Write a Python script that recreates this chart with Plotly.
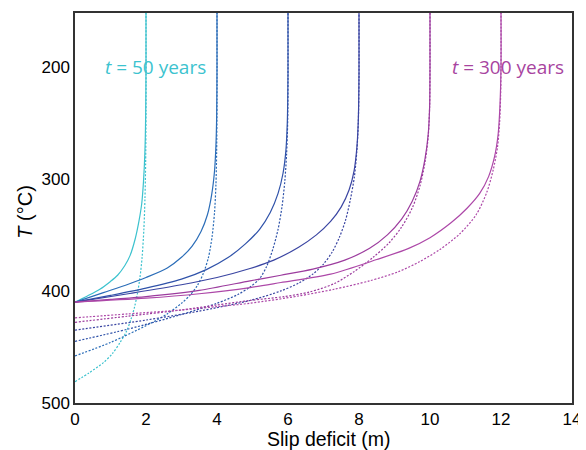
import plotly.graph_objects as go

# ---- data (slip deficit in m, temperature T in °C) ----
labels = ["50", "100", "150", "200", "250", "300"]
colors = ["#3cc2ce", "#2b6db8", "#2f52a9", "#3a45a2", "#9c3c9e", "#ad48a8"]

solid_x = [
    [0, 0.35, 0.7, 1.0, 1.2, 1.4, 1.55, 1.7, 1.8, 1.88, 1.93, 1.97, 1.99, 2.0, 2.0],
    [0, 0.8, 1.5, 2.0, 2.6, 3.0, 3.3, 3.55, 3.73, 3.85, 3.93, 3.97, 3.99, 4.0, 4.0],
    [0, 1.0, 2.0, 3.0, 3.7, 4.3, 4.8, 5.2, 5.5, 5.72, 5.86, 5.94, 5.98, 6.0, 6.0],
    [0, 1.5, 3.0, 4.0, 4.93, 5.6, 6.3, 6.8, 7.2, 7.5, 7.72, 7.86, 7.94, 7.98, 8.0, 8.0],
    [0, 1.0, 2.0, 3.5, 4.93, 5.8, 6.7, 7.6, 8.3, 8.8, 9.2, 9.5, 9.72, 9.86, 9.95, 9.99, 10.0, 10.0],
    [0, 2.0, 3.5, 4.93, 5.8, 7.2, 8.5, 9.4, 10.0, 10.6, 11.05, 11.4, 11.65, 11.82, 11.92, 11.97, 12.0, 12.0],
]
solid_T = [
    [410, 404.5, 398.5, 391.5, 386, 377.5, 368.5, 353, 338, 322, 302, 275, 245, 200, 152],
    [410, 401.5, 394, 388, 379.5, 370, 360, 347, 332, 314, 293, 270, 245, 200, 152],
    [410, 404, 397.5, 389.5, 381, 370.5, 358, 345, 330, 313, 295, 275, 250, 205, 152],
    [410, 402.5, 394.5, 388, 380, 372.5, 361, 350, 338, 325, 310, 293, 272, 248, 205, 152],
    [410, 407.5, 405, 399.5, 391, 386, 380.5, 372.5, 362, 350, 336, 320, 302, 282, 260, 235, 200, 152],
    [410, 406.5, 402.5, 397, 392.5, 385, 372, 362, 352.5, 339, 326, 313, 298, 280, 260, 235, 200, 152],
]

dot_x = [
    [0, 0.4, 0.8, 1.05, 1.27, 1.45, 1.58, 1.68, 1.76, 1.83, 1.89, 1.94, 1.97, 1.99, 2.0, 2.0],
    [0, 1.0, 2.0, 2.6, 3.0, 3.25, 3.45, 3.62, 3.76, 3.86, 3.93, 3.97, 3.99, 4.0, 4.0],
    [0, 1.5, 3.0, 4.0, 4.6, 4.93, 5.2, 5.4, 5.58, 5.72, 5.83, 5.91, 5.96, 5.99, 6.0, 6.0],
    [0, 2.0, 3.5, 4.93, 5.8, 6.3, 6.7, 7.0, 7.25, 7.45, 7.62, 7.76, 7.87, 7.94, 7.98, 8.0, 8.0],
    [0, 1.5, 3.0, 4.0, 4.93, 5.9, 6.6, 7.3, 7.85, 8.4, 8.85, 9.2, 9.5, 9.72, 9.86, 9.95, 9.99, 10.0, 10.0],
    [0, 1.5, 3.0, 4.0, 4.93, 6.3, 7.3, 8.3, 9.1, 9.7, 10.28, 10.84, 11.3, 11.6, 11.78, 11.9, 11.96, 11.99, 12.0, 12.0],
]
dot_T = [
    [481, 473, 464, 456, 446, 436, 425, 414, 402, 388, 370, 345, 318, 285, 240, 152],
    [458, 446, 431, 420.5, 411, 403.5, 395, 384, 370, 352, 330, 305, 275, 230, 152],
    [445, 434, 421, 411, 403, 396.5, 389, 378, 362, 345, 325, 302, 278, 250, 210, 152],
    [435, 426, 418, 408.5, 400, 393, 385, 376, 365, 352, 337, 318, 298, 275, 250, 210, 152],
    [428, 422.5, 417, 412.5, 408.5, 405, 401, 393.5, 383, 370, 357, 343, 326, 306, 285, 262, 235, 200, 152],
    [424, 420.5, 417, 414, 411, 404.5, 398.5, 391, 383, 374, 363, 349, 332, 312, 292, 272, 250, 225, 200, 152],
]

x_ticks = [0, 2, 4, 6, 8, 10, 12, 14]
y_ticks = [200, 300, 400, 500]

fig = go.Figure()
for i in range(len(labels)):
    fig.add_trace(go.Scatter(
        x=dot_x[i], y=dot_T[i], mode="lines",
        line=dict(color=colors[i], width=1.2, dash="2px,1.6px", shape="spline", smoothing=0.8),
        name=f"t = {labels[i]} years (dotted)", showlegend=False, hoverinfo="skip"))
for i in range(len(labels)):
    fig.add_trace(go.Scatter(
        x=solid_x[i], y=solid_T[i], mode="lines",
        line=dict(color=colors[i], width=1.2, shape="spline", smoothing=0.8),
        name=f"t = {labels[i]} years", showlegend=False, hoverinfo="skip"))

fig.add_annotation(x=2.26, y=200, xref="x", yref="y", text="<i>t</i> = 50 years",
                   showarrow=False, font=dict(family="Open Sans", size=19, color="#3cc3cf"))
fig.add_annotation(x=12.2, y=200, xref="x", yref="y", text="<i>t</i> = 300 years",
                   showarrow=False, font=dict(family="Open Sans", size=19, color="#a8449f"))

# axis titles placed as annotations for exact positioning
fig.add_annotation(x=0.511, y=-0.093, xref="paper", yref="paper", text="Slip deficit (m)",
                   showarrow=False, xanchor="center", yanchor="middle",
                   font=dict(size=19.5, color="black"))
fig.add_annotation(x=-0.101, y=0.49, xref="paper", yref="paper", text="<i>T</i> (°C)",
                   textangle=-90, showarrow=False, xanchor="center", yanchor="middle",
                   font=dict(size=20, color="black"))

# the page body adds an 8px margin, so the figure is sized/margined to compensate
fig.update_layout(
    width=578, height=442,
    margin=dict(l=67, r=14, t=5, b=47),
    paper_bgcolor="white", plot_bgcolor="white",
    font=dict(family="Liberation Sans, Arial, sans-serif", color="black"),
    xaxis=dict(range=[0, 14], tickvals=x_ticks, ticktext=[str(v) for v in x_ticks],
               showgrid=False, zeroline=False, showline=True, linecolor="#333",
               linewidth=1.5, mirror=True, ticks="", tickfont=dict(size=17),
               automargin=False),
    yaxis=dict(range=[500, 152], tickvals=y_ticks, ticktext=[str(v) for v in y_ticks],
               showgrid=False, zeroline=False, showline=True, linecolor="#333",
               linewidth=1.5, mirror=True, ticks="", tickfont=dict(size=17),
               automargin=False),
)

fig.write_html("out.html")
